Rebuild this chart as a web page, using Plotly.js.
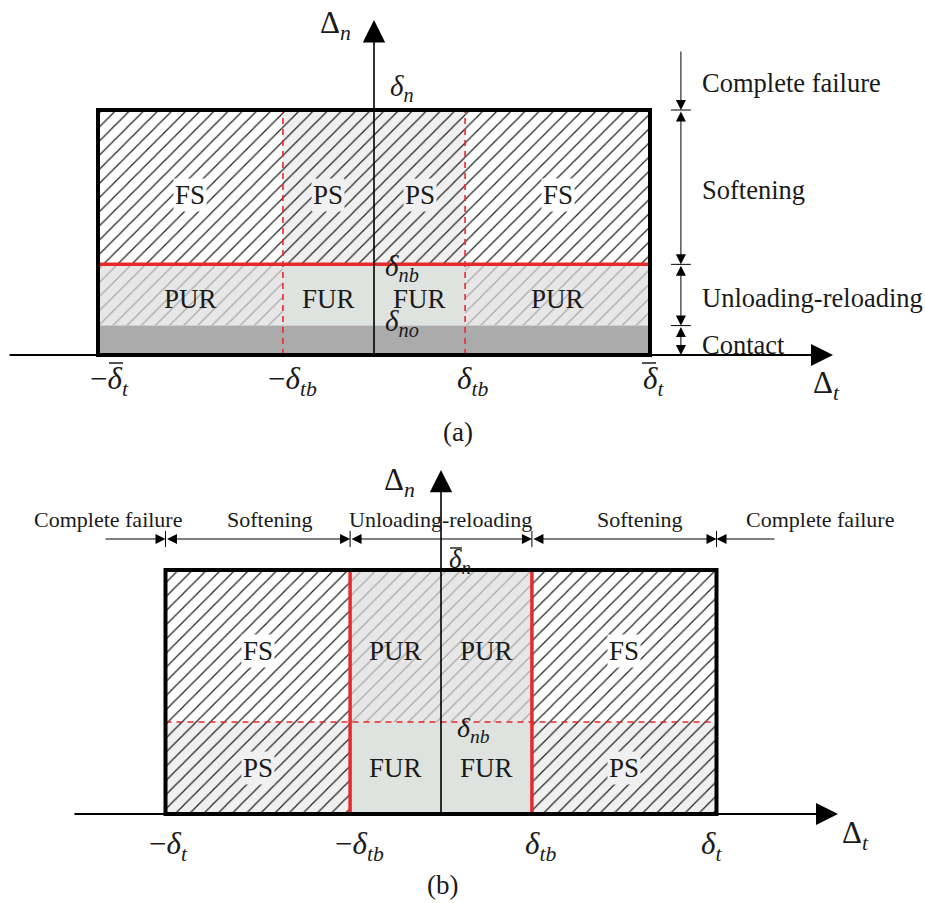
<!DOCTYPE html>
<html><head><meta charset="utf-8">
<script src="https://cdn.plot.ly/plotly-3.0.1.min.js"></script>
<style>body{margin:0;background:#fff}#chart{width:925px;height:903px}</style>
</head><body><div id="chart"></div>
<script>
// ---------- Panel (a) values ----------
const aXEdges = [-1, -0.33, 0, 0.33, 1];            // -δ̄t, -δtb, 0, δtb, δ̄t
const aXTickVals = [-1, -0.33, 0.33, 1];
const aXTickText = ['−<i>δ</i><sub><i>t</i></sub>', '−<i>δ</i><sub><i>tb</i></sub>', '<i>δ</i><sub><i>tb</i></sub>', '<i>δ</i><sub><i>t</i></sub>'];
const aXTickBar = [true, false, false, true];       // barred symbols (δ̄t)
const aYLevels = [0, 0.12, 0.37, 1];                // 0, δno, δnb, δn
const aYLevelText = ['', '<i>δ</i><sub><i>no</i></sub>', '<i>δ</i><sub><i>nb</i></sub>', '<i>δ</i><sub><i>n</i></sub>'];
const aUpperRegions = ['FS', 'PS', 'PS', 'FS'];
const aMiddleRegions = ['PUR', 'FUR', 'FUR', 'PUR'];
const aLowerRegion = 'Contact';
const aZoneNames = ['Complete failure', 'Softening', 'Unloading-reloading', 'Contact'];
const aZoneLimits = [1.245, 1, 0.37, 0.12, 0];

// ---------- Panel (b) values ----------
const bXEdges = [-1, -0.33, 0, 0.33, 1];            // -δt, -δtb, 0, δtb, δt
const bXTickVals = [-1, -0.33, 0.33, 1];
const bXTickText = ['−<i>δ</i><sub><i>t</i></sub>', '−<i>δ</i><sub><i>tb</i></sub>', '<i>δ</i><sub><i>tb</i></sub>', '<i>δ</i><sub><i>t</i></sub>'];
const bYLevels = [0, 0.377, 1];                     // 0, δnb, δ̄n
const bYLevelText = ['', '<i>δ</i><sub><i>nb</i></sub>', '<i>δ</i><sub><i>n</i></sub>'];
const bUpperRegions = ['FS', 'PUR', 'PUR', 'FS'];
const bLowerRegions = ['PS', 'FUR', 'FUR', 'PS'];
const bZoneNames = ['Complete failure', 'Softening', 'Unloading-reloading', 'Softening', 'Complete failure'];
const bZoneLimits = [-1.223, -1, -0.33, 0.33, 1, 1.216];

// ---------- styles ----------
const SERIF = '"Liberation Serif", "DejaVu Serif", serif';
const INK = '#1a1a1a';
const RED = '#e8292c';
const regionStyle = {
  FS:  {bg: '#ffffff', fg: '#222222', hatch: true},
  PS:  {bg: '#f0f0f0', fg: '#222222', hatch: true},
  PUR: {bg: '#e7e7e7', fg: '#a8a8a8', hatch: true},
  FUR: {bg: '#dfe3df', fg: '#dfe3df', hatch: false},
  Contact: {bg: '#ababab', fg: '#ababab', hatch: false}
};
const aTickShift = [11, 10, 7, 3];
const bTickShift = [3, 9, 9, -5];
const bZoneShift = [18, 12, -1, 16, 27];

const traces = [];
const shapes = [];
const annotations = [];

function rect(x0, x1, y0, y1, xa, ya, name) {
  const s = regionStyle[name];
  const t = {
    type: 'scatter', mode: 'lines', xaxis: xa, yaxis: ya,
    x: [x0, x1, x1, x0, x0], y: [y0, y0, y1, y1, y0],
    fill: 'toself', fillcolor: s.bg, line: {width: 0, color: s.bg},
    hoverinfo: 'skip', showlegend: false
  };
  if (s.hatch) t.fillpattern = {shape: '/', bgcolor: s.bg, fgcolor: s.fg, size: 10, solidity: 0.12};
  traces.push(t);
}
function line(x0, y0, x1, y1, xr, yr, color, width, dash) {
  shapes.push({type: 'line', xref: xr, yref: yr, x0, y0, x1, y1, layer: 'above',
    line: {color, width, dash: dash || 'solid'}});
}
// short bar (overline) positioned in pixels around a data anchor
function bar(xAnchor, yAnchor, xr, yr, px0, px1, py) {
  shapes.push({type: 'line', xref: xr, yref: yr, xsizemode: 'pixel', ysizemode: 'pixel',
    xanchor: xAnchor, yanchor: yAnchor, x0: px0, x1: px1, y0: py, y1: py, layer: 'above',
    line: {color: INK, width: 1.4}});
}
function txt(x, y, xr, yr, text, size, extra) {
  annotations.push(Object.assign({x, y, xref: xr, yref: yr, text, showarrow: false,
    font: {family: SERIF, size, color: INK}}, extra || {}));
}
function arrow(x, y, ax, ay, xr, yr, w, size, both) {
  annotations.push({x, y, ax, ay, xref: xr, yref: yr, axref: xr, ayref: yr, text: '',
    showarrow: true, arrowhead: 2, arrowsize: size, arrowwidth: w, arrowcolor: '#000',
    standoff: 0, startstandoff: 0, arrowside: both ? 'end+start' : 'end',
    startarrowhead: 2, startarrowsize: size});
}

// ================= Panel (a) =================
(function () {
  const xa = 'x', ya = 'y';
  const top = aYLevels[3], nb = aYLevels[2], no = aYLevels[1];
  for (let i = 0; i < 4; i++) {
    rect(aXEdges[i], aXEdges[i + 1], nb, top, xa, ya, aUpperRegions[i]);
    rect(aXEdges[i], aXEdges[i + 1], no, nb, xa, ya, aMiddleRegions[i]);
  }
  rect(aXEdges[0], aXEdges[4], 0, no, xa, ya, aLowerRegion);
  line(aXEdges[1], 0, aXEdges[1], top, xa, ya, RED, 1.6, '6px,5px');
  line(aXEdges[3], 0, aXEdges[3], top, xa, ya, RED, 1.6, '6px,5px');
  line(aXEdges[0], nb, aXEdges[4], nb, xa, ya, RED, 3.5);
  shapes.push({type: 'rect', xref: xa, yref: ya, x0: aXEdges[0], x1: aXEdges[4], y0: 0, y1: top,
    layer: 'above', line: {color: '#000', width: 4}});
  arrow(1.663, 0, -1.326, 0, xa, ya, 2, 2.2, false);
  arrow(0, 1.367, 0, 0, xa, ya, 1.6, 2.8, false);
  for (let i = 0; i < 4; i++) {
    const xm = (aXEdges[i] + aXEdges[i + 1]) / 2;
    const su = regionStyle[aUpperRegions[i]];
    txt(xm, (nb + top) / 2 - 0.03, xa, ya, aUpperRegions[i], 27, {bgcolor: su.bg});
    txt(xm, (no + nb) / 2 - 0.015, xa, ya, aMiddleRegions[i], 27);
  }
  txt(0, top, xa, ya, aYLevelText[3], 29, {xanchor: 'left', yanchor: 'bottom', xshift: 14, yshift: 2});
  txt(0, nb, xa, ya, aYLevelText[2], 29, {xanchor: 'left', yanchor: 'middle', xshift: 9, yshift: -4});
  txt(0, no, xa, ya, aYLevelText[1], 29, {xanchor: 'left', yanchor: 'middle', xshift: 9, yshift: 3});
  for (let i = 0; i < 4; i++) {
    txt(aXTickVals[i], -0.105, xa, ya, aXTickText[i], 31, {xshift: aTickShift[i]});
    if (aXTickBar[i]) {
      const off = aXTickVals[i] < 0 ? 11 : -8;
      bar(aXTickVals[i], 0, xa, ya, off, off + 14, -8);
    }
  }
  txt(1.641, -0.122, xa, ya, 'Δ<sub><i>t</i></sub>', 31);
  txt(-0.138, 1.347, xa, ya, 'Δ<sub><i>n</i></sub>', 31);
  txt(0.304, -0.314, xa, ya, '(a)', 27);
  // right dimension
  const dx = 1.112, tk = 0.036;
  arrow(dx, aZoneLimits[1], dx, aZoneLimits[0], xa, ya, 1, 2, false);
  for (let k = 1; k < 4; k++) arrow(dx, aZoneLimits[k + 1], dx, aZoneLimits[k], xa, ya, 1, 2, true);
  for (let k = 1; k < 4; k++) line(dx - tk, aZoneLimits[k], dx + tk, aZoneLimits[k], xa, ya, '#000', 1);
  for (let k = 0; k < 4; k++) {
    const ym = (aZoneLimits[k] + aZoneLimits[k + 1]) / 2;
    txt(1.181, ym, xa, ya, aZoneNames[k], 26.5, {xanchor: 'left', yshift: k === 3 ? -5 : -3});
  }
})();

// ================= Panel (b) =================
(function () {
  const xa = 'x2', ya = 'y2';
  const top = bYLevels[2], nb = bYLevels[1];
  for (let i = 0; i < 4; i++) {
    rect(bXEdges[i], bXEdges[i + 1], nb, top, xa, ya, bUpperRegions[i]);
    rect(bXEdges[i], bXEdges[i + 1], 0, nb, xa, ya, bLowerRegions[i]);
  }
  line(bXEdges[0], nb, bXEdges[4], nb, xa, ya, RED, 1.6, '6px,5px');
  line(bXEdges[1], 0, bXEdges[1], top, xa, ya, RED, 3.5);
  line(bXEdges[3], 0, bXEdges[3], top, xa, ya, RED, 3.5);
  shapes.push({type: 'rect', xref: xa, yref: ya, x0: bXEdges[0], x1: bXEdges[4], y0: 0, y1: top,
    layer: 'above', line: {color: '#000', width: 4}});
  arrow(1.441, 0, -1.336, 0, xa, ya, 2, 2.2, false);
  arrow(0, 1.41, 0, 0, xa, ya, 1.6, 2.8, false);
  for (let i = 0; i < 4; i++) {
    const xm = (bXEdges[i] + bXEdges[i + 1]) / 2;
    const su = regionStyle[bUpperRegions[i]], sl = regionStyle[bLowerRegions[i]];
    txt(xm, (nb + top) / 2 - 0.02, xa, ya, bUpperRegions[i], 27, {bgcolor: bUpperRegions[i] === 'FS' ? su.bg : undefined});
    txt(xm, nb / 2, xa, ya, bLowerRegions[i], 27, {bgcolor: bLowerRegions[i] === 'PS' ? sl.bg : undefined});
  }
  txt(0, 1.049, xa, ya, bYLevelText[2], 27, {xanchor: 'left', yanchor: 'middle', xshift: 6, yshift: -3});
  bar(0, top, xa, ya, 9, 21, 22);
  txt(0, nb, xa, ya, bYLevelText[1], 28, {xanchor: 'left', yanchor: 'middle', xshift: 14, yshift: -7});
  for (let i = 0; i < 4; i++) txt(bXTickVals[i], -0.131, xa, ya, bXTickText[i], 31, {xshift: bTickShift[i]});
  txt(1.503, -0.086, xa, ya, 'Δ<sub><i>t</i></sub>', 31);
  txt(-0.149, 1.361, xa, ya, 'Δ<sub><i>n</i></sub>', 31);
  txt(0.007, -0.291, xa, ya, '(b)', 27);
  // top dimension line
  const dy = 1.127, tk = 0.033;
  arrow(bZoneLimits[1], dy, bZoneLimits[0], dy, xa, ya, 1, 2, false);
  for (let k = 1; k < 4; k++) arrow(bZoneLimits[k + 1], dy, bZoneLimits[k], dy, xa, ya, 1, 2, true);
  arrow(bZoneLimits[4], dy, bZoneLimits[5], dy, xa, ya, 1, 2, false);
  for (let k = 1; k < 5; k++) line(bZoneLimits[k], dy - tk, bZoneLimits[k], dy + tk, xa, ya, '#000', 1);
  for (let k = 0; k < 5; k++) {
    if (k === 0) txt(bZoneLimits[1], 1.209, xa, ya, bZoneNames[k], 22, {xanchor: 'right', xshift: bZoneShift[k]});
    else if (k === 4) txt(bZoneLimits[4], 1.209, xa, ya, bZoneNames[k], 22, {xanchor: 'left', xshift: bZoneShift[k]});
    else {
      const xm = (bZoneLimits[k] + bZoneLimits[k + 1]) / 2;
      txt(xm, 1.209, xa, ya, bZoneNames[k], 22, {xshift: bZoneShift[k]});
    }
  }
})();

const ax = (range, domain, anchor) => ({range, domain, anchor, visible: false, fixedrange: true, showgrid: false, zeroline: false});
const layout = {
  width: 925, height: 903,
  margin: {l: 0, r: 0, t: 0, b: 0},
  paper_bgcolor: '#ffffff', plot_bgcolor: 'rgba(0,0,0,0)',
  showlegend: false,
  xaxis: ax([-374 / 276, 551 / 276], [0, 1], 'y'),
  yaxis: ax([-96.5 / 245, 355 / 245], [0.5, 1], 'x'),
  xaxis2: ax([-441 / 275.5, 484 / 275.5], [0, 1], 'y2'),
  yaxis2: ax([-89 / 244, 362.5 / 244], [0, 0.5], 'x2'),
  shapes, annotations
};
Plotly.newPlot('chart', traces, layout, {staticPlot: true, displayModeBar: false});
</script>
</body></html>
